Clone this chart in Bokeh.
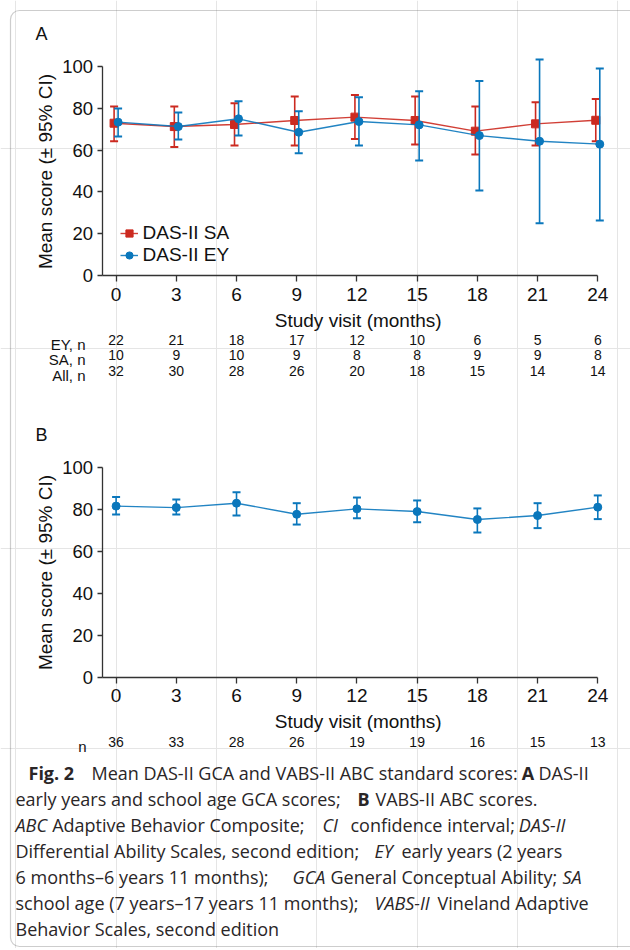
import math
from bokeh.plotting import figure
from bokeh.models import (ColumnDataSource, Label, LabelSet, Legend, LegendItem, FixedTicker,
                          LinearAxis, Range1d, BoxAnnotation)
from bokeh.transform import dodge
from bokeh.core.properties import value
from bokeh.embed import file_html
from bokeh.resources import INLINE

# ---------------- data ----------------
months = [0, 3, 6, 9, 12, 15, 18, 21, 24]

sa_mean = [72.8, 71.2, 72.2, 74.1, 75.7, 74.1, 69.0, 72.5, 74.2]
sa_lower = [64.2, 61.4, 62.2, 62.2, 65.3, 62.6, 57.9, 62.2, 64.2]
sa_upper = [80.8, 80.8, 82.3, 85.5, 86.2, 85.5, 80.8, 82.8, 84.3]

ey_mean = [73.3, 71.2, 74.9, 68.5, 73.6, 72.0, 66.9, 64.2, 62.8]
ey_lower = [66.5, 65.0, 66.9, 58.5, 62.2, 55.0, 40.7, 25.1, 26.4]
ey_upper = [79.8, 77.9, 83.3, 78.5, 85.2, 88.1, 92.9, 103.2, 98.9]

ey_n = [22, 21, 18, 17, 12, 10, 6, 5, 6]
sa_n = [10, 9, 10, 9, 8, 8, 9, 9, 8]
all_n = [32, 30, 28, 26, 20, 18, 15, 14, 14]

vabs_mean = [81.7, 81.0, 83.1, 77.8, 80.4, 79.1, 75.3, 77.2, 81.2]
vabs_lower = [77.7, 77.7, 77.2, 72.9, 75.9, 74.0, 69.1, 71.2, 75.5]
vabs_upper = [86.0, 84.9, 88.3, 83.1, 85.8, 84.4, 80.6, 83.1, 86.8]
vabs_n = [36, 33, 28, 26, 19, 19, 16, 15, 13]

y_ticks = [0, 20, 40, 60, 80, 100]

# ---------------- style / geometry ----------------
RED = "#cc2a20"
BLUE = "#0a77bc"
AXIS = "#333333"
INK = "#111111"
CAP_INK = "#2a2627"
FONT = "Liberation Sans"
CAP_FONT = "Open Sans"

W, H = 630, 948
X0_PX, X_SCALE = 115.6, 20.07          # pixel of month 0, pixels per month
YA0_PX, YA_SCALE = 275.3, 2.096         # panel A: pixel of score 0, pixels per point
YB0_PX, YB_SCALE = 676.7, 2.094         # panel B
AXIS_X_PX = 101.5
BASE_FIX = 0.35                         # em correction for the rendered text baseline


def sy(img_y):
    return H - img_y


x_axis_start = (AXIS_X_PX - X0_PX) / X_SCALE

p = figure(width=W, height=H, title=None,
           x_range=Range1d(-X0_PX / X_SCALE, (W - X0_PX) / X_SCALE), y_range=Range1d(0, H),
           min_border=0, x_axis_location=None, y_axis_location=None,
           toolbar_location=None, output_backend="svg")
p.extra_y_ranges = {
    "a": Range1d((YA0_PX - H) / YA_SCALE, YA0_PX / YA_SCALE),
    "b": Range1d((YB0_PX - H) / YB_SCALE, YB0_PX / YB_SCALE),
}
p.outline_line_color = None
p.border_fill_color = "white"
p.background_fill_color = "white"


def style_axis(ax, tick_out, font_size):
    ax.axis_line_color = AXIS
    ax.axis_line_width = 1.3
    ax.major_tick_line_color = AXIS
    ax.major_tick_line_width = 1.3
    ax.major_tick_in = 0
    ax.major_tick_out = tick_out
    ax.minor_tick_line_color = None
    ax.major_label_text_font = FONT
    ax.major_label_text_color = INK
    ax.major_label_text_font_size = font_size


def add_axes(rname):
    ya = LinearAxis(y_range_name=rname, fixed_location=x_axis_start, bounds=(0, 100),
                    ticker=FixedTicker(ticks=y_ticks))
    style_axis(ya, 5, "18.5px")
    ya.major_label_standoff = 4
    p.add_layout(ya, "left")
    xa = LinearAxis(y_range_name=rname, fixed_location=0, bounds=(x_axis_start, 24),
                    ticker=FixedTicker(ticks=months))
    style_axis(xa, 6, "19px")
    xa.major_label_standoff = 6
    p.add_layout(xa, "below")


def draw_series(src, rname, color, marker, size, offset):
    xd = dodge("month", offset)
    ln = p.line(x=xd, y="mean", source=src, y_range_name=rname, line_color=color,
                line_width=1.4, line_alpha=0.9)
    p.segment(x0=xd, y0="lower", x1=xd, y1="upper", source=src, y_range_name=rname,
              line_color=color, line_width=1.6)
    p.scatter(x=xd, y="upper", source=src, y_range_name=rname, marker="dash", size=8,
              line_color=color, line_width=2)
    p.scatter(x=xd, y="lower", source=src, y_range_name=rname, marker="dash", size=8,
              line_color=color, line_width=2)
    mk = p.scatter(x=xd, y="mean", source=src, y_range_name=rname, marker=marker, size=size,
                   fill_color=color, line_color=color)
    return ln, mk


def lab(x, img_y, text, size, font=FONT, style="normal", align="left", color=INK, rotated=False):
    if rotated:
        x = x - BASE_FIX * size
    else:
        img_y = img_y - BASE_FIX * size
    p.add_layout(Label(x=x, y=sy(img_y), x_units="screen", y_units="screen", text=text,
                       text_font=font, text_font_size="%gpx" % size, text_font_style=style,
                       text_align=align, text_baseline="alphabetic", text_color=color,
                       angle=math.pi / 2 if rotated else 0.0))


def n_row(counts, img_y, size=14):
    src = ColumnDataSource(dict(month=months, txt=[str(c) for c in counts]))
    p.add_layout(LabelSet(x="month", y=sy(img_y - BASE_FIX * size), y_units="screen",
                          text="txt", source=src,
                          text_font=value(FONT), text_font_size=value("%gpx" % size),
                          text_align="center", text_baseline="alphabetic", text_color=INK))


# ---------------- frame border ----------------
p.add_layout(BoxAnnotation(left=10, right=W + 30, top=sy(10), bottom=sy(946),
                           left_units="screen", right_units="screen",
                           top_units="screen", bottom_units="screen",
                           fill_alpha=0, line_color="#5a5a5a", line_width=1.2,
                           border_radius=9))

# ---------------- panel A ----------------
add_axes("a")
sa_src = ColumnDataSource(dict(month=months, mean=sa_mean, lower=sa_lower, upper=sa_upper))
ey_src = ColumnDataSource(dict(month=months, mean=ey_mean, lower=ey_lower, upper=ey_upper))
sa_line, sa_mk = draw_series(sa_src, "a", RED, "square", 8, -0.1)
ey_line, ey_mk = draw_series(ey_src, "a", BLUE, "circle", 8, 0.1)

legend = Legend(items=[LegendItem(label="DAS-II SA", renderers=[sa_line, sa_mk]),
                       LegendItem(label="DAS-II EY", renderers=[ey_line, ey_mk])],
                location=(119.5, sy(265.5)), padding=0, margin=0, spacing=-1,
                glyph_width=18, glyph_height=20, label_height=20, label_standoff=5,
                label_text_font=FONT, label_text_font_size="19px", label_text_color=INK,
                border_line_color=None, background_fill_alpha=0)
p.add_layout(legend)

lab(35, 39.3, "A", 18)
lab(51.7, 171, "Mean score (\u00b1 95% CI)", 19, align="center", rotated=True)
lab(357.7, 326.5, "Study visit (months)", 19, align="center")
for txt, y, counts in (("EY, n", 349, ey_n), ("SA, n", 364.5, sa_n), ("All, n", 380, all_n)):
    lab(85, y, txt, 15, align="right")
    n_row(counts, y)

# ---------------- panel B ----------------
add_axes("b")
vabs_src = ColumnDataSource(dict(month=months, mean=vabs_mean, lower=vabs_lower, upper=vabs_upper))
draw_series(vabs_src, "b", BLUE, "circle", 8, 0.0)
lab(35, 440.7, "B", 18)
lab(51.7, 572, "Mean score (\u00b1 95% CI)", 19, align="center", rotated=True)
lab(357.7, 727.5, "Study visit (months)", 19, align="center")
lab(86, 751.7, "n", 15, align="right")
n_row(vabs_n, 751.7)

# ---------------- caption ----------------
CAP_SIZE = 18.0
ADV = {" ": 260, "(": 296, ")": 296, ",": 245, "-": 322, ".": 266, ":": 266, ";": 266,
       "\u2013": 500, "A": 633, "B": 648, "C": 631, "D": 729, "E": 556, "G": 728, "I": 279,
       "M": 903, "S": 549, "V": 595, "Y": 560, "F": 516,
       "a": 556, "b": 613, "c": 482, "d": 613, "e": 561, "f": 336, "g": 547, "h": 613,
       "i": 258, "l": 258, "m": 930, "n": 613, "o": 600, "p": 613, "r": 408, "s": 478,
       "t": 353, "u": 613, "v": 500, "y": 500}
STYLE_F = {"normal": 1.0, "bold": 1.08, "italic": 0.96}


def est_width(s, style):
    return sum(ADV.get(c, 572) for c in s) / 1000.0 * CAP_SIZE * STYLE_F[style]


caption_lines = [
    [("Fig. 2", "bold", 28), ("Mean DAS-II GCA and VABS-II ABC standard scores:", "normal", 91),
     ("A", "bold", 519), ("DAS-II", "normal", 538)],
    [("early years and school age GCA scores;", "normal", 15), ("B", "bold", 357),
     ("VABS-II ABC scores.", "normal", 375)],
    [("ABC", "italic", 15), ("Adaptive Behavior Composite;", "normal", 50), ("CI", "italic", 322),
     ("confidence interval;", "normal", 350), ("DAS-II", "italic", 518)],
    [("Differential Ability Scales, second edition;", "normal", 15), ("EY", "italic", 374),
     ("early years (2 years", "normal", 401)],
    [("6 months\u20136 years 11 months);", "normal", 15), ("GCA", "italic", 292),
     ("General Conceptual Ability;", "normal", 327), ("SA", "italic", 562)],
    [("school age (7 years\u201317 years 11 months);", "normal", 15), ("VABS-II", "italic", 374),
     ("Vineland Adaptive", "normal", 437)],
    [("Behavior Scales, second edition", "normal", 15)],
]
space_w = 0.2 * CAP_SIZE
for i, runs in enumerate(caption_lines):
    base = 779 + 26 * i
    prev_end = None
    for txt, style, x in runs:
        if prev_end is not None:
            x = max(x, prev_end + space_w)
        lab(x, base, txt, CAP_SIZE, font=CAP_FONT, style=style, color=CAP_INK)
        prev_end = x + est_width(txt, style)

open("out.html", "w").write(file_html(p, INLINE))
